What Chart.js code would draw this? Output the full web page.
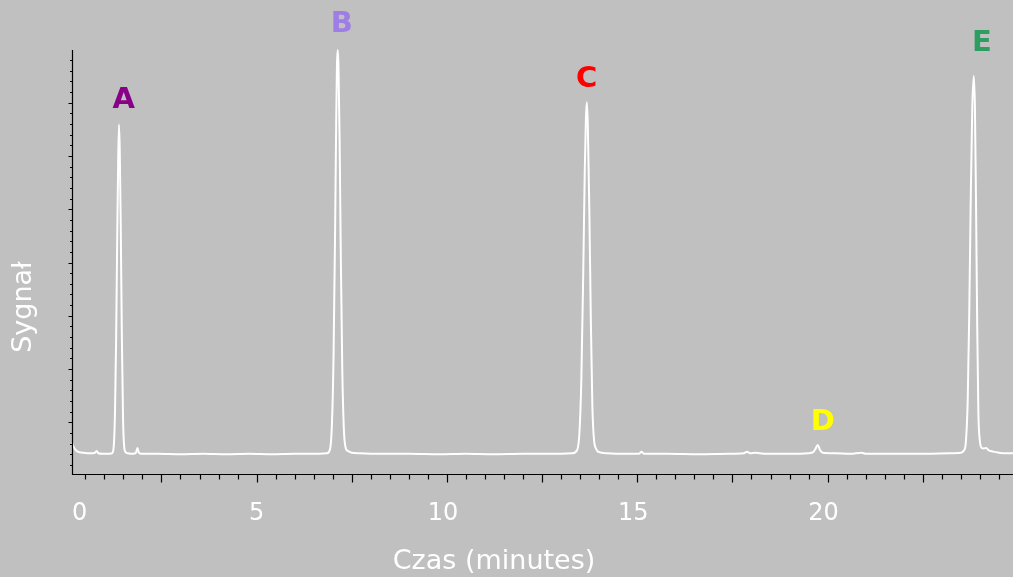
<!DOCTYPE html>
<html><head><meta charset="utf-8">
<script src="https://cdn.jsdelivr.net/npm/chart.js@4"></script>
<style>html,body{margin:0;padding:0;background:#c0c0c0;overflow:hidden}#wrap{width:1013px;height:577px}</style>
</head><body><div id="wrap"><canvas id="c" width="1013" height="577"></canvas></div>
<script>
// Chromatogram trace (time in minutes, signal in arbitrary units)
const times = [0.15,0.20,0.26,0.33,0.42,0.55,0.70,0.76,0.80,0.84,0.95,1.10,1.20,1.24,1.28,1.31,1.34,1.365,1.385,1.405,1.43,1.46,1.49,1.52,1.56,1.62,1.75,1.83,1.87,1.90,1.96,2.40,3.00,3.60,4.20,4.80,5.40,6.00,6.50,6.85,6.93,6.98,7.02,7.06,7.09,7.11,7.13,7.15,7.18,7.21,7.25,7.29,7.33,7.40,7.50,7.70,8.20,9.00,9.80,10.50,11.20,12.00,12.80,13.30,13.42,13.48,13.53,13.58,13.62,13.65,13.675,13.70,13.74,13.78,13.82,13.86,13.92,14.00,14.20,14.70,15.05,15.11,15.17,15.80,16.60,17.40,17.80,17.89,17.96,18.10,18.22,18.40,19.00,19.50,19.62,19.68,19.74,19.80,19.87,20.20,20.60,20.89,21.00,21.80,22.60,23.20,23.50,23.58,23.63,23.68,23.72,23.76,23.80,23.84,23.87,23.90,23.93,23.96,24.00,24.05,24.10,24.17,24.22,24.35,24.50,24.70,24.87];
const signal = [0.61,0.53,0.47,0.44,0.43,0.42,0.42,0.43,0.46,0.42,0.41,0.41,0.42,0.50,1.20,2.60,4.60,6.00,6.59,6.10,4.70,2.60,1.10,0.55,0.44,0.42,0.41,0.43,0.52,0.44,0.41,0.41,0.40,0.41,0.40,0.41,0.40,0.41,0.41,0.42,0.50,1.00,2.20,4.50,6.60,7.70,7.99,7.70,6.30,4.20,2.00,0.90,0.55,0.46,0.43,0.42,0.41,0.41,0.40,0.41,0.40,0.41,0.41,0.42,0.48,0.80,1.80,3.80,5.70,6.70,7.01,6.60,5.00,2.90,1.30,0.70,0.50,0.44,0.42,0.41,0.41,0.45,0.41,0.41,0.40,0.41,0.42,0.45,0.42,0.43,0.42,0.41,0.41,0.42,0.44,0.50,0.575,0.48,0.43,0.42,0.41,0.43,0.41,0.41,0.41,0.42,0.43,0.47,0.62,1.40,3.00,5.20,6.90,7.50,6.90,5.00,2.80,1.20,0.65,0.52,0.51,0.52,0.48,0.45,0.43,0.42,0.42];

// Axis ticks
const xTickValues = [0, 5, 10, 15, 20];
const xTickLabels = ['0', '5', '10', '15', '20'];
const xMinorStep = 0.5, xMajorStep = 2.5;
const yMinorStep = 0.2, yMajorStep = 1;
const xRange = [0.15, 24.87];
const yRange = [0.03, 7.99];

// Peak annotations
const peakNames = ['A', 'B', 'C', 'D', 'E'];
const peakLabelTimes = [1.51, 7.24, 13.67, 19.87, 24.05];
const peakLabelSignal = [7.06, 8.48, 7.45, 1.025, 8.14];
const peakColors = ['#880088', '#9E7DE6', '#FF0000', '#FFFF00', '#2E9D62'];

const xTitle = 'Czas (minutes)';
const yTitle = 'Sygnał';

const axesPlugin = {
  id: 'axesPlugin',
  afterDraw(chart) {
    const ctx = chart.ctx;
    const xs = chart.scales.x, ys = chart.scales.y;
    const a = chart.chartArea;
    ctx.save();
    ctx.strokeStyle = '#000';
    ctx.lineWidth = 1.2;
    const ax = Math.round(a.left) + 0.5;
    const ay = Math.round(a.bottom) + 0.5;
    ctx.beginPath();
    ctx.moveTo(ax, a.top); ctx.lineTo(ax, ay);
    ctx.lineTo(a.right, ay);
    ctx.stroke();
    // x ticks
    ctx.beginPath();
    for (let v = 0; v <= xs.max + 1e-9; v += xMinorStep) {
      if (v < xs.min) continue;
      const px = Math.round(xs.getPixelForValue(v)) + 0.5;
      const major = Math.abs(v / xMajorStep - Math.round(v / xMajorStep)) < 1e-6;
      ctx.moveTo(px, ay); ctx.lineTo(px, ay + (major ? 8 : 5));
    }
    // y ticks
    for (let v = 0; v <= ys.max + 1e-9; v += yMinorStep) {
      if (v < ys.min) continue;
      const py = Math.round(ys.getPixelForValue(v)) + 0.5;
      const major = Math.abs(v / yMajorStep - Math.round(v / yMajorStep)) < 1e-6;
      ctx.moveTo(ax, py); ctx.lineTo(ax - (major ? 4 : 2.5), py);
    }
    ctx.stroke();
    // x tick labels
    ctx.fillStyle = '#ffffff';
    ctx.font = '24px "DejaVu Sans"';
    ctx.textBaseline = 'middle';
    xTickValues.forEach((v, i) => {
      const w = ctx.measureText(xTickLabels[i]).width;
      let px = xs.getPixelForValue(v);
      if (px - w / 2 < a.left) px = a.left + w / 2;
      ctx.textAlign = 'center';
      ctx.fillText(xTickLabels[i], px - (xTickLabels[i].length > 1 ? 4 : 0), ay + 39);
    });
    // titles
    ctx.font = '27px "DejaVu Sans"';
    ctx.textAlign = 'center';
    ctx.fillText(xTitle, 494, 562);
    ctx.save();
    ctx.translate(24, 307);
    ctx.rotate(-Math.PI / 2);
    ctx.fillText(yTitle, 0, 0);
    ctx.restore();
    // peak labels
    ctx.font = 'bold 29px "DejaVu Sans"';
    peakNames.forEach((n, i) => {
      ctx.fillStyle = peakColors[i];
      ctx.fillText(n, xs.getPixelForValue(peakLabelTimes[i]), ys.getPixelForValue(peakLabelSignal[i]) + 1);
    });
    ctx.restore();
  }
};

new Chart(document.getElementById('c'), {
  type: 'line',
  data: {
    datasets: [{
      data: times.map((t, i) => ({ x: t, y: signal[i] })),
      borderColor: '#ffffff',
      borderWidth: 2,
      pointRadius: 0,
      fill: false,
      cubicInterpolationMode: 'monotone',
      clip: 4
    }]
  },
  options: {
    responsive: false,
    animation: false,
    layout: { padding: { left: 72, top: 50, right: 0, bottom: 103 } },
    scales: {
      x: { type: 'linear', min: xRange[0], max: xRange[1], display: false },
      y: { type: 'linear', min: yRange[0], max: yRange[1], display: false }
    },
    plugins: { legend: { display: false }, tooltip: { enabled: false } }
  },
  plugins: [axesPlugin]
});
</script>
</body></html>
